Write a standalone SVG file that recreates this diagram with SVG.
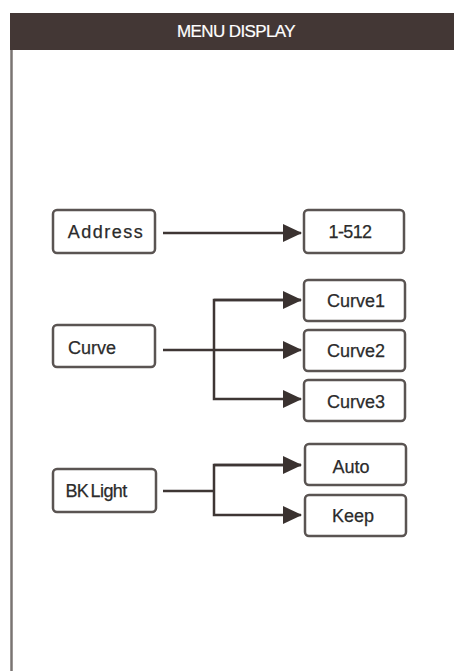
<svg xmlns="http://www.w3.org/2000/svg" width="454" height="671" viewBox="0 0 454 671">
<defs>
<marker id="ah" markerWidth="19" markerHeight="18" refX="18" refY="9" orient="auto" markerUnits="userSpaceOnUse">
<path d="M0,0 L19,9 L0,18 Z" fill="#3a3230"/>
</marker>
</defs>
<style>
.box{fill:#fff;stroke:#5a5452;stroke-width:2.5}
.t{font-family:"Liberation Sans",Arial,sans-serif;font-size:18px;fill:#2b2b2b;text-anchor:middle;stroke:#2b2b2b;stroke-width:0.25}
.c{fill:none;stroke:#3e3634;stroke-width:2.5}
</style>
<rect width="454" height="671" fill="#fff"/>
<g id="frame">
<line x1="11.5" y1="48" x2="11.5" y2="671" stroke="#7a7472" stroke-width="2.5"/>
<rect x="10" y="13" width="444" height="37" fill="#433735"/>
<text x="236" y="37" font-family="'Liberation Sans',Arial,sans-serif" font-size="17" fill="#fff" stroke="#fff" stroke-width="0.2" text-anchor="middle" letter-spacing="-0.6">MENU DISPLAY</text>
</g>
<g id="connectors">
<line class="c" x1="163" y1="233" x2="301" y2="233" marker-end="url(#ah)"/>
<line class="c" x1="163" y1="350" x2="301" y2="350" marker-end="url(#ah)"/>
<polyline class="c" points="301,300 214,300 214,399 301,399" marker-end="url(#ah)"/>
<line class="c" x1="214" y1="300" x2="301" y2="300" marker-end="url(#ah)"/>
<line class="c" x1="163" y1="491" x2="214" y2="491"/>
<polyline class="c" points="301,465 214,465 214,515 301,515" marker-end="url(#ah)"/>
<line class="c" x1="214" y1="465" x2="301" y2="465" marker-end="url(#ah)"/>
</g>
<g id="address"><rect class="box" x="53" y="210" width="102" height="43" rx="4"/><text class="t" x="106" y="238" letter-spacing="1.5">Address</text></g>
<g id="v1-512"><rect class="box" x="304" y="210" width="100" height="43" rx="4"/><text class="t" x="350" y="238" font-size="17" letter-spacing="-0.6">1-512</text></g>
<g id="curve"><rect class="box" x="53" y="325" width="102" height="42" rx="4"/><text class="t" x="92" y="354">Curve</text></g>
<g id="curve1"><rect class="box" x="304" y="280" width="101" height="41" rx="4"/><text class="t" x="356" y="307">Curve1</text></g>
<g id="curve2"><rect class="box" x="304" y="330" width="101" height="41" rx="4"/><text class="t" x="356" y="357">Curve2</text></g>
<g id="curve3"><rect class="box" x="304" y="380" width="101" height="41" rx="4"/><text class="t" x="356" y="408">Curve3</text></g>
<g id="bklight"><rect class="box" x="53" y="469" width="103" height="43" rx="4"/><text class="t" x="96" y="497" letter-spacing="-0.6" word-spacing="-2">BK Light</text></g>
<g id="auto"><rect class="box" x="305" y="444" width="101" height="41" rx="4"/><text class="t" x="351" y="473">Auto</text></g>
<g id="keep"><rect class="box" x="305" y="495" width="101" height="41" rx="4"/><text class="t" x="353" y="522">Keep</text></g>
</svg>
